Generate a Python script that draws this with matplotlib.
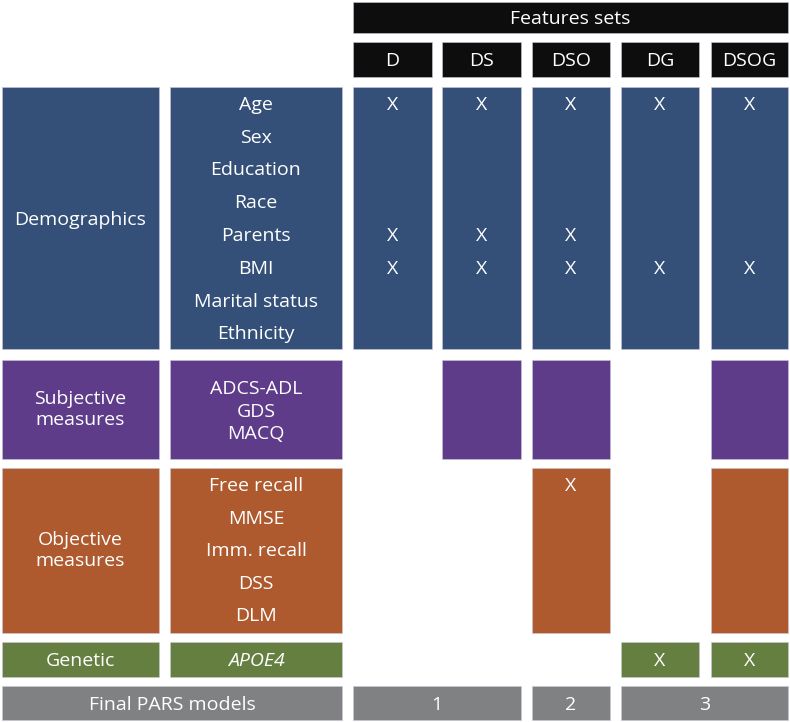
import matplotlib.pyplot as plt
from matplotlib.patches import Rectangle

plt.rcParams["font.family"] = ["Open Sans", "DejaVu Sans"]

# data
feature_sets = ["D", "DS", "DSO", "DG", "DSOG"]
groups = ["Demographics", "Subjective\nmeasures", "Objective\nmeasures", "Genetic"]
group_features = [
    ["Age", "Sex", "Education", "Race", "Parents", "BMI", "Marital status", "Ethnicity"],
    ["ADCS-ADL", "GDS", "MACQ"],
    ["Free recall", "MMSE", "Imm. recall", "DSS", "DLM"],
    ["APOE4"],
]
# which feature sets include each group (filled block)
group_in_set = [
    [1, 1, 1, 1, 1],
    [0, 1, 1, 0, 1],
    [0, 0, 1, 0, 1],
    [0, 0, 0, 1, 1],
]
# X marks: (feature, set)
x_marks = [
    ("Age", "D"), ("Age", "DS"), ("Age", "DSO"), ("Age", "DG"), ("Age", "DSOG"),
    ("Parents", "D"), ("Parents", "DS"), ("Parents", "DSO"),
    ("BMI", "D"), ("BMI", "DS"), ("BMI", "DSO"), ("BMI", "DG"), ("BMI", "DSOG"),
    ("Free recall", "DSO"),
    ("APOE4", "DG"), ("APOE4", "DSOG"),
]
final_models = [("1", "D", "DS"), ("2", "DSO", "DSO"), ("3", "DG", "DSOG")]

# layout (pixels)
group_colors = ["#345078", "#5e3c8a", "#ae5a2e", "#647f40"]
black = "#0d0d0d"
gray = "#808183"
col_a = (2, 159)
col_b = (170, 342)
set_cols = [(353, 432), (442, 521), (532, 610), (621, 699), (711, 788)]
group_rows = [(87, 349), (360, 459), (468, 633), (642, 677)]
feat_y = [
    [103, 136, 168, 201, 234, 267, 300, 332],
    [387, 410, 432],
    [484, 517, 549, 582, 614],
    [659],
]
fs = 14

fig = plt.figure(figsize=(7.9, 7.22), dpi=100)
ax = fig.add_axes([0, 0, 1, 1])
ax.set_xlim(0, 790)
ax.set_ylim(722, 0)
ax.axis("off")


def box(x0, x1, y0, y1, color, text=None, va="center_baseline", **kw):
    ax.add_patch(Rectangle((x0, y0), x1 - x0, y1 - y0, facecolor=color,
                           edgecolor="#c8c8d8", lw=0.4))
    if text is not None:
        ax.text((x0 + x1) / 2, (y0 + y1) / 2, text, color="white", fontsize=fs,
                ha="center", va=va, **kw)


# header
box(353, 788, 2, 33, black, "Features sets")
for (x0, x1), name in zip(set_cols, feature_sets):
    box(x0, x1, 42, 77, black, name)

feat_pos = {}
for g, (name, feats) in enumerate(zip(groups, group_features)):
    y0, y1 = group_rows[g]
    col = group_colors[g]
    box(col_a[0], col_a[1], y0, y1, col, name,
        va="center_baseline" if "\n" not in name else "center", linespacing=1.2)
    box(col_b[0], col_b[1], y0, y1, col)
    for f, fy in zip(feats, feat_y[g]):
        style = "italic" if f == "APOE4" else "normal"
        ax.text(sum(col_b) / 2, fy, f, color="white", fontsize=fs,
                ha="center", va="center_baseline", style=style)
        feat_pos[f] = fy
    for s, on in enumerate(group_in_set[g]):
        if on:
            box(set_cols[s][0], set_cols[s][1], y0, y1, col)

for f, s in x_marks:
    x0, x1 = set_cols[feature_sets.index(s)]
    ax.text((x0 + x1) / 2, feat_pos[f], "X", color="white", fontsize=fs,
            ha="center", va="center_baseline")

# final models row
box(col_a[0], col_b[1], 686, 720, gray, "Final PARS models")
for label, s0, s1 in final_models:
    box(set_cols[feature_sets.index(s0)][0], set_cols[feature_sets.index(s1)][1],
        686, 720, gray, label)

fig.savefig("out.png", dpi=100)
